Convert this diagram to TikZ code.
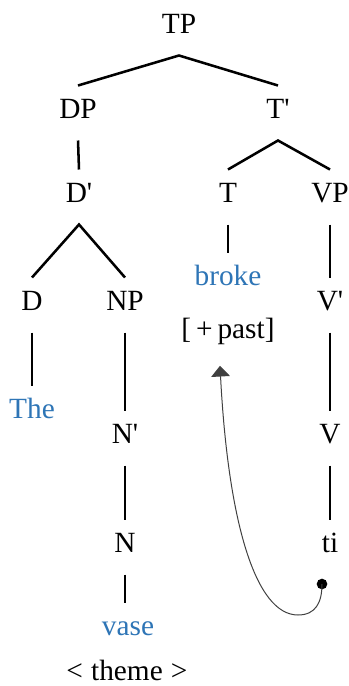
\documentclass[tikz,border=0pt]{standalone}
\usepackage{fontspec}
\setmainfont{Liberation Serif}
\usetikzlibrary{arrows.meta}
\definecolor{wordblue}{RGB}{46,117,182}
\tikzset{every picture/.style={line width=0.75pt}}
\tikzset{
  lbl/.style={anchor=base, inner sep=0pt, text height=24pt, text depth=16.5pt, font=\fontsize{22}{26}\selectfont},
  blu/.style={lbl, text=wordblue},
  branch/.style={line width=1.9pt},
}
\newcommand{\pr}{\textquotesingle}

\begin{document}
\begin{tikzpicture}[x=0.75pt,y=0.75pt,yscale=-1,xscale=1]
\useasboundingbox (0,0) rectangle (349,686);

% Text Node
\node[lbl] (TP) at (179,33) {TP};
% Text Node
\node[lbl] (DP) at (78,118) {DP};
% Text Node
\node[lbl] (Tbar) at (278,118) {T\pr};
% Text Node
\node[lbl] (Dbar) at (79,202) {D\pr};
% Text Node
\node[lbl] (T) at (228,202) {T};
% Text Node
\node[lbl] (VP) at (330,202) {VP};
% Text Node
\node[lbl] (D) at (32,310) {D};
% Text Node
\node[lbl] (NP) at (125,310) {NP};
% Text Node
\node[blu] (broke) at (228,285) {broke};
% Text Node
\node[lbl] (past) at (228,338) {[\,+\,past]};
% Text Node
\node[lbl] (Vbar) at (330,310) {V\pr};
% Text Node
\node[blu] (The) at (32,418) {The};
% Text Node
\node[lbl] (Nbar) at (125,443) {N\pr};
% Text Node
\node[lbl] (V) at (330,443) {V};
% Text Node
\node[lbl] (N) at (125,552) {N};
% Text Node
\node[lbl] (ti) at (330,552) {ti};
% Text Node
\node[blu] (vase) at (128,635) {vase};
% Text Node
\node[lbl, text depth=1pt] (theme) at (127,680) {<\;theme\;>};

%Straight Lines
\draw[branch] (DP.north) -- (TP.south) -- (Tbar.north);
\draw[branch] (DP.south) -- (Dbar.north);
\draw[branch] (T.north) -- (Tbar.south) -- (VP.north);
\draw[branch] (D.north) -- (Dbar.south) -- (NP.north);
\draw[branch] (T.south) -- (broke.north);
\draw[branch] (VP.south) -- (Vbar.north);
\draw[branch] (D.south) -- (The.north);
\draw[branch] (NP.south) -- (Nbar.north);
\draw[branch] (Vbar.south) -- (V.north);
\draw[branch] (Nbar.south) -- (N.north);
\draw[branch] (V.south) -- (ti.north);
\draw[branch] (N.south) -- (N.south |- vase.north);

%Curve Lines
\node[circle, fill=black, inner sep=0pt, minimum size=8pt] (trace) at (322,584) {};
\draw[black!75, -{Triangle[length=8pt,width=14pt]}] (trace.center) .. controls (322,602) and (316,615) .. (298,615) .. controls (255,615) and (228,520) .. ([xshift=-6pt,yshift=4pt]past.south);

\end{tikzpicture}
\end{document}
